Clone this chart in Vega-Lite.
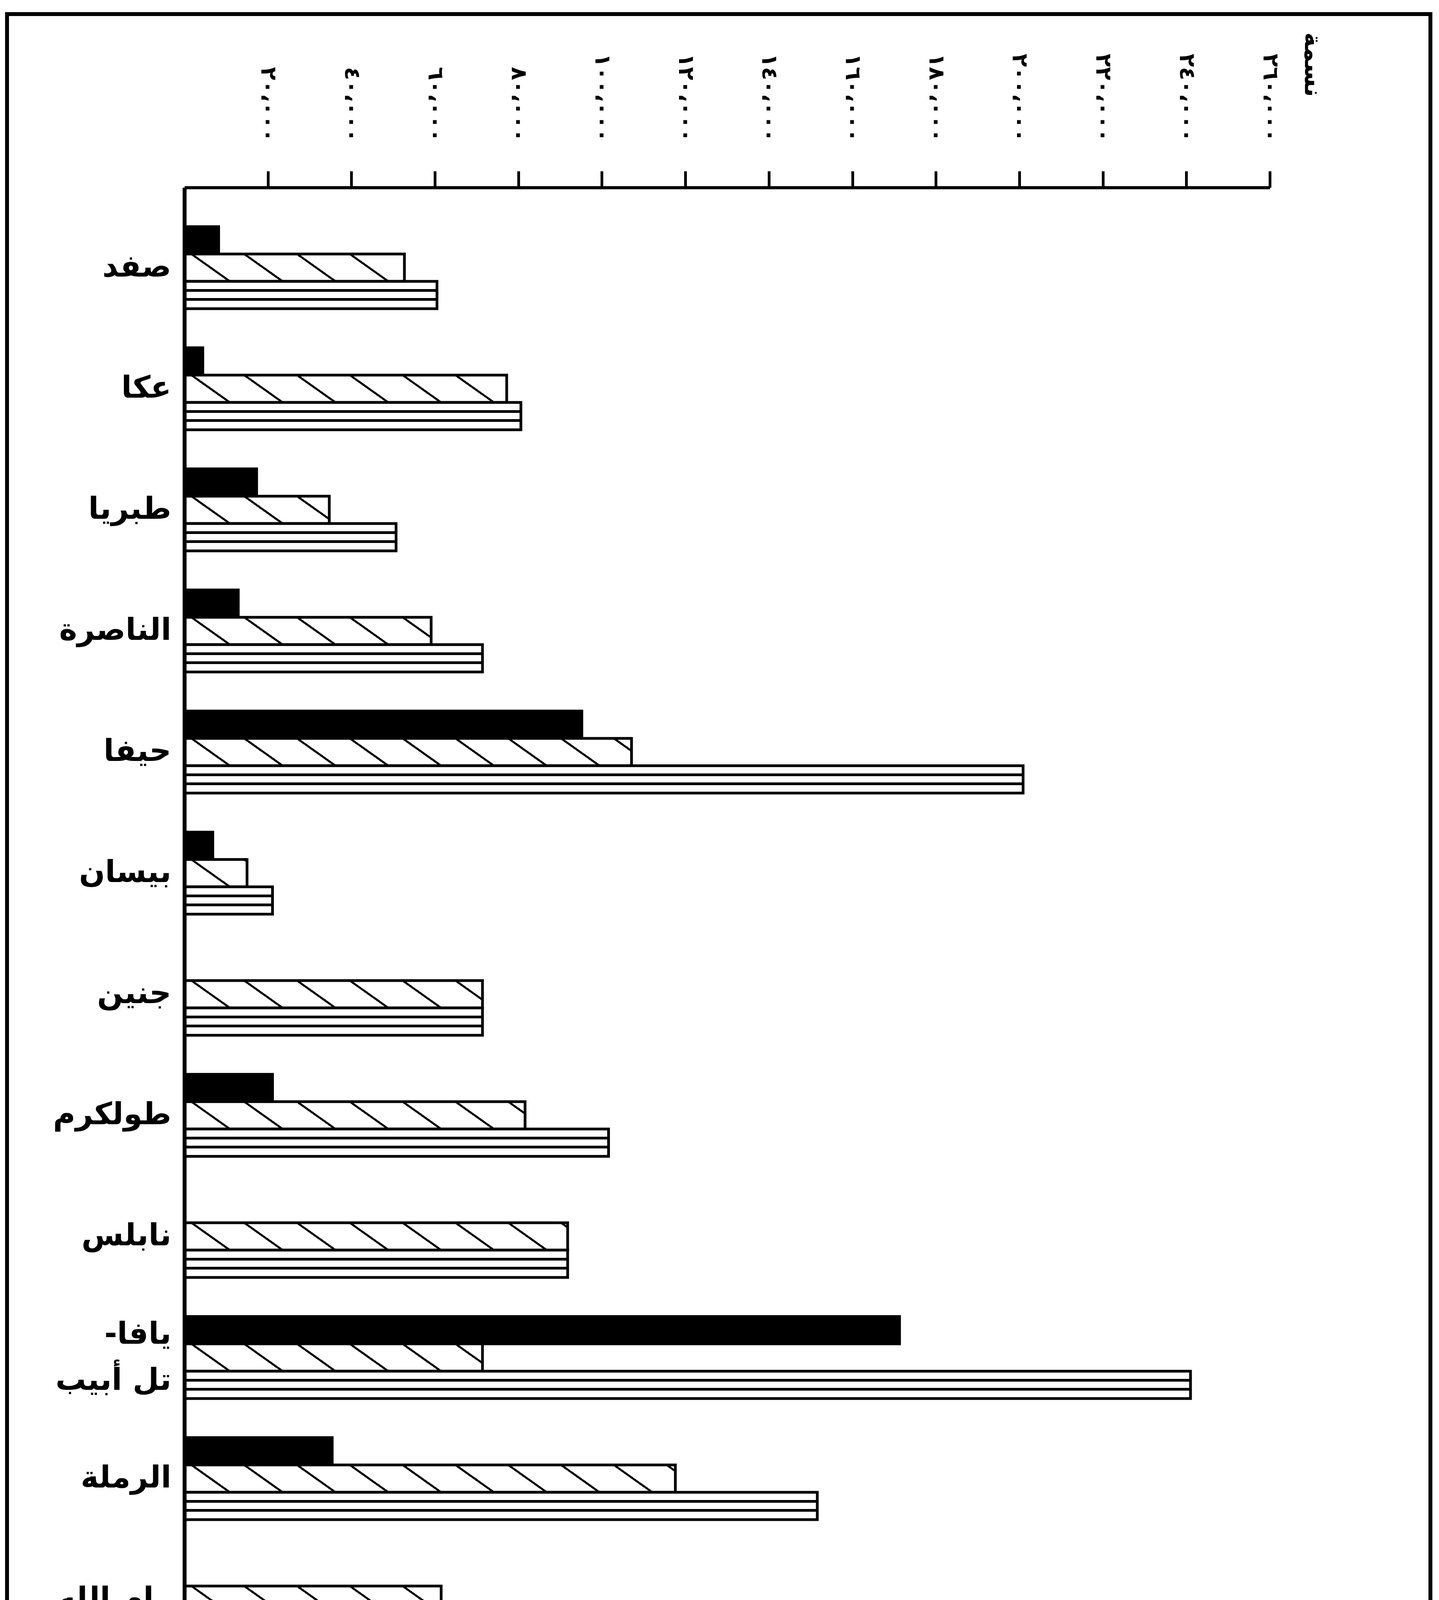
{
  "$schema": "https://vega.github.io/schema/vega-lite/v6.json",
  "width": 3643,
  "height": 5658,
  "autosize": {"type": "none"},
  "padding": {"left": 18, "top": 36, "right": 22, "bottom": 19},
  "background": "white",
  "config": {
    "view": {"stroke": "black", "strokeWidth": 10},
    "font": "DejaVu Sans"
  },
  "data": {
    "values": [
      {"city": "صفد", "series": "السكان اليهود", "pop": 8200},
      {"city": "صفد", "series": "السكان العرب", "pop": 52700},
      {"city": "صفد", "series": "مجموع السكان", "pop": 60500},
      {"city": "عكا", "series": "السكان اليهود", "pop": 4400},
      {"city": "عكا", "series": "السكان العرب", "pop": 77200},
      {"city": "عكا", "series": "مجموع السكان", "pop": 80600},
      {"city": "طبريا", "series": "السكان اليهود", "pop": 17300},
      {"city": "طبريا", "series": "السكان العرب", "pop": 34700},
      {"city": "طبريا", "series": "مجموع السكان", "pop": 50700},
      {"city": "الناصرة", "series": "السكان اليهود", "pop": 12900},
      {"city": "الناصرة", "series": "السكان العرب", "pop": 59100},
      {"city": "الناصرة", "series": "مجموع السكان", "pop": 71400},
      {"city": "حيفا", "series": "السكان اليهود", "pop": 95200},
      {"city": "حيفا", "series": "السكان العرب", "pop": 107100},
      {"city": "حيفا", "series": "مجموع السكان", "pop": 200900},
      {"city": "بيسان", "series": "السكان اليهود", "pop": 6800},
      {"city": "بيسان", "series": "السكان العرب", "pop": 15000},
      {"city": "بيسان", "series": "مجموع السكان", "pop": 21100},
      {"city": "جنين", "series": "السكان العرب", "pop": 71400},
      {"city": "جنين", "series": "مجموع السكان", "pop": 71400},
      {"city": "طولكرم", "series": "السكان اليهود", "pop": 21100},
      {"city": "طولكرم", "series": "السكان العرب", "pop": 81600},
      {"city": "طولكرم", "series": "مجموع السكان", "pop": 101600},
      {"city": "نابلس", "series": "السكان العرب", "pop": 91800},
      {"city": "نابلس", "series": "مجموع السكان", "pop": 91800},
      {"city": "يافا-تل أبيب", "series": "السكان اليهود", "pop": 171300},
      {"city": "يافا-تل أبيب", "series": "السكان العرب", "pop": 71400},
      {"city": "يافا-تل أبيب", "series": "مجموع السكان", "pop": 241000},
      {"city": "الرملة", "series": "السكان اليهود", "pop": 35400},
      {"city": "الرملة", "series": "السكان العرب", "pop": 117600},
      {"city": "الرملة", "series": "مجموع السكان", "pop": 151600},
      {"city": "رام الله", "series": "السكان العرب", "pop": 61500},
      {"city": "رام الله", "series": "مجموع السكان", "pop": 61500},
      {"city": "القدس", "series": "السكان اليهود", "pop": 102000},
      {"city": "القدس", "series": "السكان العرب", "pop": 161100},
      {"city": "القدس", "series": "مجموع السكان", "pop": 260000},
      {"city": "الخليل", "series": "السكان العرب", "pop": 91800},
      {"city": "الخليل", "series": "مجموع السكان", "pop": 91800},
      {"city": "غزة", "series": "السكان اليهود", "pop": 6100},
      {"city": "غزة", "series": "السكان العرب", "pop": 127500},
      {"city": "غزة", "series": "مجموع السكان", "pop": 131200},
      {"city": "بئر السبع", "series": "السكان العرب", "pop": 72100},
      {"city": "بئر السبع", "series": "مجموع السكان", "pop": 72100}
    ]
  },
  "mark": {"type": "bar", "strokeWidth": 7, "strokeJoin": "miter"},
  "encoding": {
    "y": {
      "field": "city",
      "type": "nominal",
      "sort": ["صفد", "عكا", "طبريا", "الناصرة", "حيفا", "بيسان", "جنين", "طولكرم", "نابلس", "يافا-تل أبيب", "الرملة", "رام الله", "القدس", "الخليل", "غزة", "بئر السبع"],
      "scale": {"range": [444, 5477], "paddingInner": 0.3226, "paddingOuter": 0.279, "align": 0.58},
      "axis": {
        "orient": "left",
        "offset": -454,
        "title": null,
        "ticks": false,
        "domainColor": "black",
        "domainWidth": 10,
        "labelFont": "DejaVu Sans",
        "labelFontSize": 78,
        "labelFontWeight": "bold",
        "labelColor": "black",
        "labelPadding": 34,
        "labelLimit": 1000,
        "labelLineHeight": 118,
        "labelOffset": {"expr": "datum.label==='يافا-تل أبيب'?-58:0"},
        "labelExpr": "datum.label==='يافا-تل أبيب'?['يافا-\u200f','تل أبيب']:datum.label",
        "zindex": 1
      }
    },
    "yOffset": {
      "field": "series",
      "type": "nominal",
      "scale": {"domain": ["السكان اليهود", "السكان العرب", "مجموع السكان"], "paddingInner": 0, "paddingOuter": 0}
    },
    "x": {
      "field": "pop",
      "type": "quantitative",
      "scale": {"domain": [0, 260000], "range": [454, 3232], "nice": false},
      "axis": {
        "orient": "top",
        "offset": -444,
        "values": [20000, 40000, 60000, 80000, 100000, 120000, 140000, 160000, 180000, 200000, 220000, 240000, 260000],
        "grid": false,
        "domainColor": "black",
        "domainWidth": 8,
        "tickColor": "black",
        "tickWidth": 7,
        "tickSize": 42,
        "labelAngle": 90,
        "labelAlign": "right",
        "labelBaseline": "middle",
        "labelFont": "DejaVu Sans",
        "labelFontSize": 56,
        "labelFontWeight": "bold",
        "labelColor": "black",
        "labelPadding": 75,
        "labelLimit": 1000,
        "labelOverlap": false,
        "labelFlush": false,
        "labelExpr": "datum.value==20000?'٢٠،٠٠٠':datum.value==40000?'٤٠،٠٠٠':datum.value==60000?'٦٠،٠٠٠':datum.value==80000?'٨٠،٠٠٠':datum.value==100000?'١٠٠،٠٠٠':datum.value==120000?'١٢٠،٠٠٠':datum.value==140000?'١٤٠،٠٠٠':datum.value==160000?'١٦٠،٠٠٠':datum.value==180000?'١٨٠،٠٠٠':datum.value==200000?'٢٠٠،٠٠٠':datum.value==220000?'٢٢٠،٠٠٠':datum.value==240000?'٢٤٠،٠٠٠':'٢٦٠،٠٠٠'",
        "title": "نسمة",
        "titleFont": "DejaVu Sans",
        "titleFontSize": 62,
        "titleFontWeight": "bold",
        "titleColor": "black",
        "titleAngle": 90,
        "titleAlign": "center",
        "titleBaseline": "middle",
        "titleX": 3340,
        "titleY": -315
      }
    },
    "stroke": {
      "field": "series",
      "type": "nominal",
      "scale": {"domain": ["مجموع السكان", "السكان العرب", "السكان اليهود"], "range": ["black", "black", "black"]},
      "legend": {
        "title": null,
        "orient": "none",
        "legendX": 2723,
        "legendY": 5374,
        "direction": "horizontal",
        "padding": 0,
        "columnPadding": 43,
        "symbolType": "M-1,-4H1V4H-1Z",
        "symbolSize": 6400,
        "symbolStrokeWidth": 7,
        "symbolStrokeColor": "black",
        "labelFont": "DejaVu Sans",
        "labelFontSize": 62,
        "labelFontWeight": "bold",
        "labelColor": "black",
        "labelLimit": 1000,
        "labelAlign": "right",
        "labelBaseline": "middle",
        "labelOffset": -25,
        "encoding": {
          "symbols": {
            "fill": {"value": {"expr": "datum.value==='السكان اليهود'?'black':datum.value==='السكان العرب'?{gradient:'linear',x1:0,y1:0,x2:-0.2,y2:1,stops:[{offset:0,color:'white'},{offset:0.027,color:'white'},{offset:0.027,color:'black'},{offset:0.051,color:'black'},{offset:0.051,color:'white'},{offset:0.261,color:'white'},{offset:0.261,color:'black'},{offset:0.285,color:'black'},{offset:0.285,color:'white'},{offset:0.476,color:'white'},{offset:0.476,color:'black'},{offset:0.5,color:'black'},{offset:0.5,color:'white'},{offset:0.71,color:'white'},{offset:0.71,color:'black'},{offset:0.734,color:'black'},{offset:0.734,color:'white'},{offset:1,color:'white'}]}:{gradient:'linear',x1:0,y1:0,x2:0,y2:1,stops:[{offset:0,color:'white'},{offset:0.06,color:'white'},{offset:0.06,color:'black'},{offset:0.082,color:'black'},{offset:0.082,color:'white'},{offset:0.132,color:'white'},{offset:0.132,color:'black'},{offset:0.154,color:'black'},{offset:0.154,color:'white'},{offset:0.203,color:'white'},{offset:0.203,color:'black'},{offset:0.225,color:'black'},{offset:0.225,color:'white'},{offset:0.275,color:'white'},{offset:0.275,color:'black'},{offset:0.297,color:'black'},{offset:0.297,color:'white'},{offset:0.346,color:'white'},{offset:0.346,color:'black'},{offset:0.368,color:'black'},{offset:0.368,color:'white'},{offset:0.418,color:'white'},{offset:0.418,color:'black'},{offset:0.44,color:'black'},{offset:0.44,color:'white'},{offset:0.489,color:'white'},{offset:0.489,color:'black'},{offset:0.511,color:'black'},{offset:0.511,color:'white'},{offset:0.56,color:'white'},{offset:0.56,color:'black'},{offset:0.582,color:'black'},{offset:0.582,color:'white'},{offset:0.632,color:'white'},{offset:0.632,color:'black'},{offset:0.654,color:'black'},{offset:0.654,color:'white'},{offset:0.703,color:'white'},{offset:0.703,color:'black'},{offset:0.725,color:'black'},{offset:0.725,color:'white'},{offset:0.775,color:'white'},{offset:0.775,color:'black'},{offset:0.797,color:'black'},{offset:0.797,color:'white'},{offset:0.846,color:'white'},{offset:0.846,color:'black'},{offset:0.868,color:'black'},{offset:0.868,color:'white'},{offset:0.918,color:'white'},{offset:0.918,color:'black'},{offset:0.94,color:'black'},{offset:0.94,color:'white'},{offset:1,color:'white'}]}"}}
          },
          "labels": {
            "angle": {"value": 90},
            "dx": {"value": -205}
          }
        }
      }
    },
    "fill": {"value": {"expr": "datum.series==='السكان اليهود'?'black':datum.series==='مجموع السكان'?{gradient:'linear',x1:0,y1:0,x2:0,y2:1,stops:[{offset:0,color:'white'},{offset:0.283,color:'white'},{offset:0.283,color:'black'},{offset:0.383,color:'black'},{offset:0.383,color:'white'},{offset:0.616,color:'white'},{offset:0.616,color:'black'},{offset:0.716,color:'black'},{offset:0.716,color:'white'},{offset:1,color:'white'}]}:{gradient:'linear',x1:0,y1:0,x2:1,y2:-9222/datum.pop,stops:[{offset:0,color:'white'},{offset:min(1,1259/(datum.pop+85045284/datum.pop)),color:'white'},{offset:min(1,1259/(datum.pop+85045284/datum.pop)),color:'black'},{offset:min(1,2101/(datum.pop+85045284/datum.pop)),color:'black'},{offset:min(1,2101/(datum.pop+85045284/datum.pop)),color:'white'},{offset:min(1,13909/(datum.pop+85045284/datum.pop)),color:'white'},{offset:min(1,13909/(datum.pop+85045284/datum.pop)),color:'black'},{offset:min(1,14751/(datum.pop+85045284/datum.pop)),color:'black'},{offset:min(1,14751/(datum.pop+85045284/datum.pop)),color:'white'},{offset:min(1,26559/(datum.pop+85045284/datum.pop)),color:'white'},{offset:min(1,26559/(datum.pop+85045284/datum.pop)),color:'black'},{offset:min(1,27401/(datum.pop+85045284/datum.pop)),color:'black'},{offset:min(1,27401/(datum.pop+85045284/datum.pop)),color:'white'},{offset:min(1,39209/(datum.pop+85045284/datum.pop)),color:'white'},{offset:min(1,39209/(datum.pop+85045284/datum.pop)),color:'black'},{offset:min(1,40051/(datum.pop+85045284/datum.pop)),color:'black'},{offset:min(1,40051/(datum.pop+85045284/datum.pop)),color:'white'},{offset:min(1,51859/(datum.pop+85045284/datum.pop)),color:'white'},{offset:min(1,51859/(datum.pop+85045284/datum.pop)),color:'black'},{offset:min(1,52701/(datum.pop+85045284/datum.pop)),color:'black'},{offset:min(1,52701/(datum.pop+85045284/datum.pop)),color:'white'},{offset:min(1,64509/(datum.pop+85045284/datum.pop)),color:'white'},{offset:min(1,64509/(datum.pop+85045284/datum.pop)),color:'black'},{offset:min(1,65351/(datum.pop+85045284/datum.pop)),color:'black'},{offset:min(1,65351/(datum.pop+85045284/datum.pop)),color:'white'},{offset:min(1,77159/(datum.pop+85045284/datum.pop)),color:'white'},{offset:min(1,77159/(datum.pop+85045284/datum.pop)),color:'black'},{offset:min(1,78001/(datum.pop+85045284/datum.pop)),color:'black'},{offset:min(1,78001/(datum.pop+85045284/datum.pop)),color:'white'},{offset:min(1,89809/(datum.pop+85045284/datum.pop)),color:'white'},{offset:min(1,89809/(datum.pop+85045284/datum.pop)),color:'black'},{offset:min(1,90651/(datum.pop+85045284/datum.pop)),color:'black'},{offset:min(1,90651/(datum.pop+85045284/datum.pop)),color:'white'},{offset:min(1,102459/(datum.pop+85045284/datum.pop)),color:'white'},{offset:min(1,102459/(datum.pop+85045284/datum.pop)),color:'black'},{offset:min(1,103301/(datum.pop+85045284/datum.pop)),color:'black'},{offset:min(1,103301/(datum.pop+85045284/datum.pop)),color:'white'},{offset:min(1,115109/(datum.pop+85045284/datum.pop)),color:'white'},{offset:min(1,115109/(datum.pop+85045284/datum.pop)),color:'black'},{offset:min(1,115951/(datum.pop+85045284/datum.pop)),color:'black'},{offset:min(1,115951/(datum.pop+85045284/datum.pop)),color:'white'},{offset:min(1,127759/(datum.pop+85045284/datum.pop)),color:'white'},{offset:min(1,127759/(datum.pop+85045284/datum.pop)),color:'black'},{offset:min(1,128601/(datum.pop+85045284/datum.pop)),color:'black'},{offset:min(1,128601/(datum.pop+85045284/datum.pop)),color:'white'},{offset:min(1,140409/(datum.pop+85045284/datum.pop)),color:'white'},{offset:min(1,140409/(datum.pop+85045284/datum.pop)),color:'black'},{offset:min(1,141251/(datum.pop+85045284/datum.pop)),color:'black'},{offset:min(1,141251/(datum.pop+85045284/datum.pop)),color:'white'},{offset:min(1,153059/(datum.pop+85045284/datum.pop)),color:'white'},{offset:min(1,153059/(datum.pop+85045284/datum.pop)),color:'black'},{offset:min(1,153901/(datum.pop+85045284/datum.pop)),color:'black'},{offset:min(1,153901/(datum.pop+85045284/datum.pop)),color:'white'},{offset:1,color:'white'}]}"}}
  }
}
